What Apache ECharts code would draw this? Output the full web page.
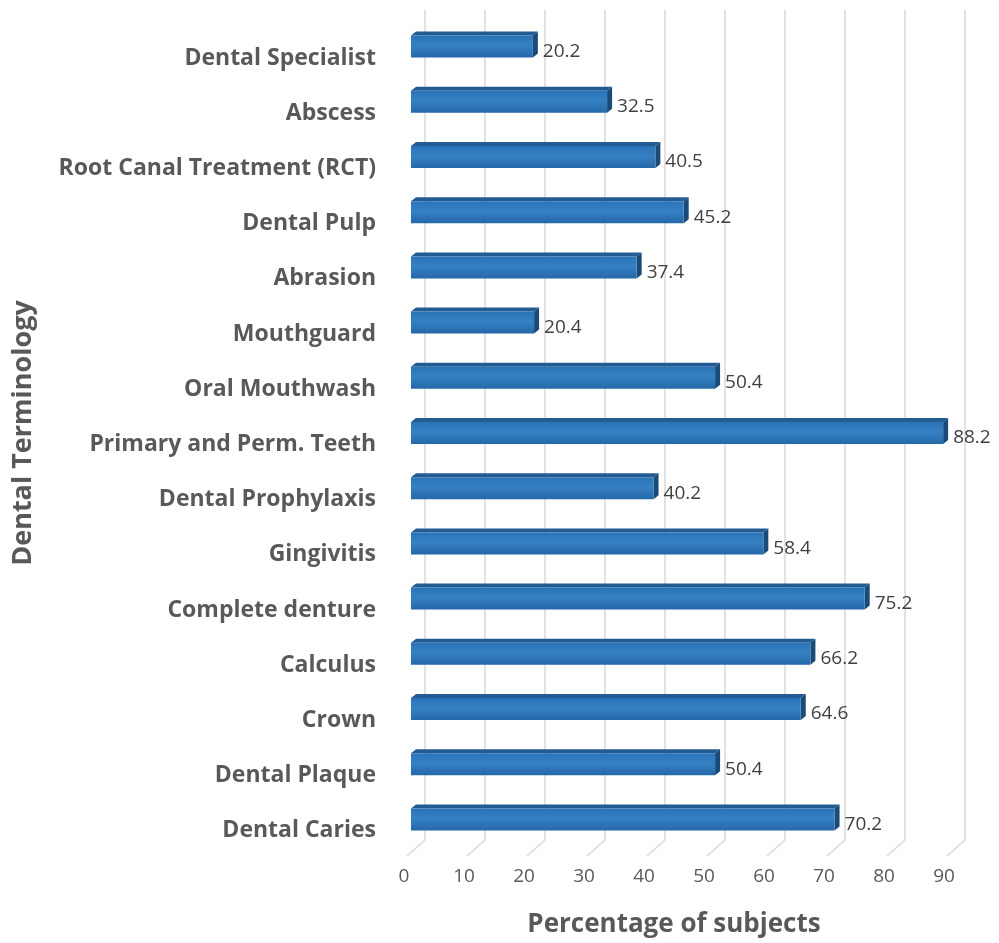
<!DOCTYPE html>
<html>
<head>
<meta charset="utf-8">
<script src="https://cdn.jsdelivr.net/npm/echarts@6/dist/echarts.min.js"></script>
<style>
  html, body { margin: 0; padding: 0; background: #fff; }
  #chart { width: 999px; height: 943px; }
</style>
</head>
<body>
<div id="chart"></div>
<script>
const categories = [
  'Dental Specialist', 'Abscess', 'Root Canal Treatment (RCT)', 'Dental Pulp',
  'Abrasion', 'Mouthguard', 'Oral Mouthwash', 'Primary and Perm. Teeth',
  'Dental Prophylaxis', 'Gingivitis', 'Complete denture', 'Calculus',
  'Crown', 'Dental Plaque', 'Dental Caries'
];
const percentages = [20.2, 32.5, 40.5, 45.2, 37.4, 20.4, 50.4, 88.2, 40.2, 58.4, 75.2, 66.2, 64.6, 50.4, 70.2];
const xTicks = [0, 10, 20, 30, 40, 50, 60, 70, 80, 90];

const textGrey = '#595959';
const gridGrey = '#d9d9d9';
const DX = 5, DY = 4; // bar depth

const chart = echarts.init(document.getElementById('chart'));

chart.setOption({
  animation: false,
  textStyle: { fontFamily: 'Open Sans' },
  grid: [
    { left: 411, right: 45, top: 19, bottom: 96 },   // bars
    { left: 425, right: 34, top: 10, bottom: 103 },  // back wall
    { left: 404, right: 55, top: 10, bottom: 71 }    // tick labels
  ],
  xAxis: [
    { gridIndex: 0, type: 'value', min: 0, max: 90, show: false },
    {
      gridIndex: 1, type: 'value', min: 0, max: 90, interval: 10,
      axisLine: { show: false }, axisTick: { show: false }, axisLabel: { show: false },
      splitLine: { show: true, lineStyle: { color: gridGrey, width: 1.5 } }
    },
    {
      gridIndex: 2, type: 'value', min: 0, max: 90, interval: 10,
      axisLine: { show: false }, axisTick: { show: false }, splitLine: { show: false },
      axisLabel: { color: textGrey, fontSize: 19, margin: 4 },
      name: 'Percentage of subjects',
      nameLocation: 'middle',
      nameGap: 49,
      nameTextStyle: { color: textGrey, fontSize: 26, fontWeight: 'bold' }
    }
  ],
  yAxis: [
    {
      gridIndex: 0, type: 'category', data: categories, inverse: true,
      axisLine: { show: false }, axisTick: { show: false },
      axisLabel: {
        margin: 35,
        formatter: (v) => '{c|' + v + '}',
        rich: {
          c: { color: textGrey, fontSize: 23, fontWeight: 'bold', lineHeight: 46, verticalAlign: 'bottom' }
        }
      },
      name: 'Dental Terminology',
      nameLocation: 'middle',
      nameGap: 374,
      nameTextStyle: { color: textGrey, fontSize: 27, fontWeight: 'bold' }
    },
    { gridIndex: 1, type: 'value', min: 0, max: 1, show: false },
    { gridIndex: 2, type: 'value', min: 0, max: 1, show: false }
  ],
  series: [
    {
      // floor lines from back wall to front
      type: 'custom',
      xAxisIndex: 1,
      yAxisIndex: 1,
      silent: true,
      data: xTicks,
      renderItem: (params, api) => {
        const p = api.coord([api.value(0), 0]);
        return {
          type: 'line',
          shape: { x1: p[0], y1: p[1], x2: p[0] - 18, y2: p[1] + 16 },
          style: { stroke: gridGrey, lineWidth: 1.5 }
        };
      }
    },
    {
      // top and right faces of the 3D bars
      type: 'custom',
      xAxisIndex: 0,
      yAxisIndex: 0,
      silent: true,
      z: 3,
      data: percentages.map((v, i) => [v, i]),
      renderItem: (params, api) => {
        const s = api.coord([0, api.value(1)]);
        const e = api.coord([api.value(0), api.value(1)]);
        const h = 22;
        const y0 = e[1] - h / 2, y1 = e[1] + h / 2;
        return {
          type: 'group',
          children: [
            {
              type: 'polygon',
              shape: { points: [[s[0], y0], [e[0], y0], [e[0] + DX, y0 - DY], [s[0] + DX, y0 - DY]] },
              style: { fill: '#225c93' }
            },
            {
              type: 'polygon',
              shape: { points: [[e[0], y0], [e[0] + DX, y0 - DY], [e[0] + DX, y1 - DY], [e[0], y1]] },
              style: { fill: '#1a4a78' }
            }
          ]
        };
      }
    },
    {
      type: 'bar',
      xAxisIndex: 0,
      yAxisIndex: 0,
      barWidth: 22,
      z: 4,
      data: percentages,
      itemStyle: {
        color: new echarts.graphic.LinearGradient(0, 0, 0, 1, [
          { offset: 0, color: '#2b73b6' },
          { offset: 0.45, color: '#3580c4' },
          { offset: 1, color: '#2568a8' }
        ])
      },
      label: {
        show: true,
        position: 'right',
        distance: 10,
        offset: [0, 5],
        color: '#404040',
        fontSize: 19
      }
    }
  ]
});
</script>
</body>
</html>
